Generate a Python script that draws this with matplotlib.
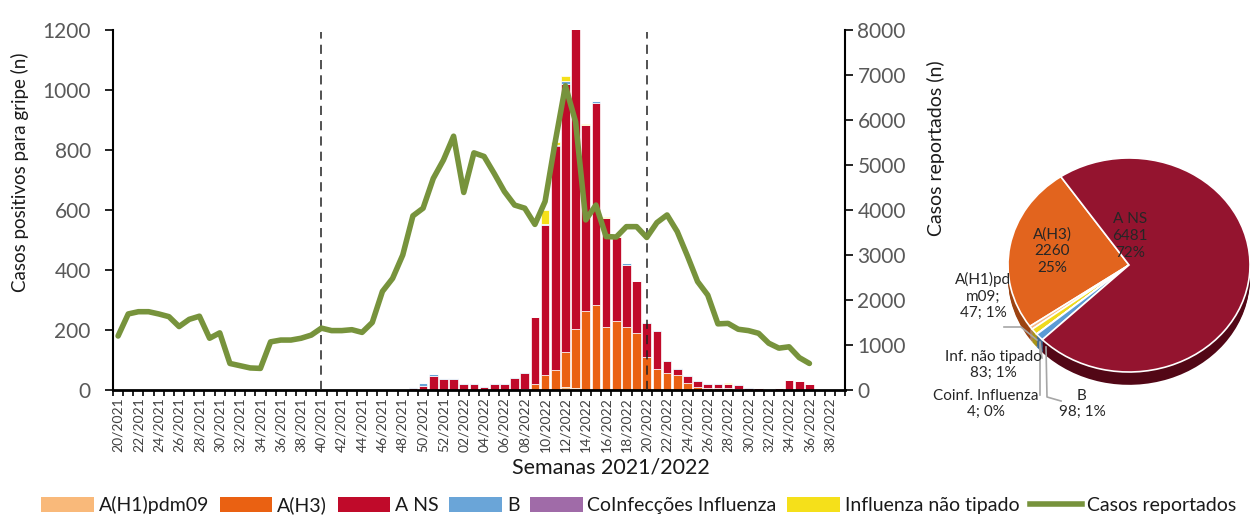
import numpy as np
import matplotlib
matplotlib.use("Agg")
import matplotlib.pyplot as plt
from matplotlib.patches import Patch
from matplotlib.lines import Line2D

plt.rcParams['font.family'] = ['Lato', 'DejaVu Sans']

# ---------------- data ----------------
weeks = ([f"{w:02d}/2021" for w in range(20, 53)] +
         [f"{w:02d}/2022" for w in range(1, 40)])

# rows of 10 weeks: 20-29/21 | 30-39/21 | 40-49/21 | 50/21-07/22 | 08-17/22 | 18-27/22 | 28-37/22 | 38-39/22
h1pdm09 = [0, 0, 0, 0, 0, 0, 0, 0, 0, 0,
           0, 0, 0, 0, 0, 0, 0, 0, 0, 0,
           0, 0, 0, 0, 0, 0, 0, 0, 0, 0,
           0, 0, 0, 0, 0, 0, 0, 0, 0, 0,
           0, 0, 0, 0, 10, 8, 0, 0, 0, 0,
           0, 0, 0, 0, 0, 0, 0, 0, 0, 0,
           0, 0, 0, 0, 0, 0, 0, 0, 0, 0,
           0, 0]
h3 = [0, 0, 0, 0, 0, 0, 0, 0, 0, 0,
      0, 0, 0, 0, 0, 0, 0, 0, 0, 0,
      0, 0, 0, 0, 0, 0, 0, 0, 0, 0,
      0, 0, 0, 0, 0, 0, 0, 0, 0, 0,
      3, 20, 50, 67, 118, 195, 263, 283, 211, 230,
      211, 191, 110, 70, 58, 50, 24, 11, 8, 8,
      7, 3, 0, 0, 0, 0, 0, 0, 0, 0,
      0, 0]
a_ns = [0, 0, 0, 0, 0, 0, 0, 0, 0, 0,
        0, 0, 0, 0, 0, 0, 0, 0, 0, 0,
        0, 0, 0, 0, 0, 0, 0, 0, 0, 8,
        15, 48, 37, 37, 19, 19, 11, 19, 19, 40,
        54, 222, 500, 748, 891, 1007, 620, 675, 363, 281,
        206, 174, 115, 128, 38, 21, 23, 18, 13, 13,
        13, 14, 8, 7, 0, 6, 33, 29, 20, 0,
        0, 0]
b = [0, 0, 0, 0, 0, 0, 0, 0, 0, 0,
     0, 0, 0, 0, 0, 0, 0, 0, 0, 0,
     0, 0, 0, 0, 0, 0, 0, 0, 0, 3,
     8, 4, 4, 4, 3, 3, 4, 3, 3, 4,
     4, 2, 5, 3, 10, 0, 0, 5, 0, 0,
     5, 0, 1, 1, 4, 3, 3, 3, 3, 3,
     0, 2, 2, 0, 0, 0, 0, 0, 0, 0,
     0, 0]
coinf = [0, 0, 0, 0, 0, 0, 0, 0, 0, 0,
         0, 0, 0, 0, 0, 0, 0, 0, 0, 0,
         0, 0, 0, 0, 0, 0, 0, 0, 0, 0,
         0, 0, 0, 0, 0, 0, 0, 0, 0, 0,
         0, 0, 0, 0, 2, 0, 0, 0, 0, 0,
         0, 0, 0, 0, 0, 0, 0, 0, 0, 0,
         0, 0, 0, 0, 0, 0, 0, 0, 0, 0,
         0, 0]
nao_tip = [0, 0, 0, 0, 0, 0, 0, 0, 0, 0,
           0, 0, 0, 0, 0, 0, 0, 0, 0, 0,
           0, 0, 0, 0, 0, 0, 0, 0, 0, 0,
           0, 0, 0, 0, 0, 0, 0, 0, 0, 0,
           0, 0, 45, 10, 17, 0, 5, 0, 4, 4,
           0, 0, 0, 0, 0, 0, 0, 0, 0, 0,
           3, 0, 0, 0, 0, 0, 0, 0, 0, 0,
           0, 0]

nan = np.nan
casos_reportados = [1200, 1690, 1740, 1740, 1690, 1630, 1410, 1570, 1640, 1150,
                    1270, 590, 540, 490, 480, 1070, 1110, 1110, 1150, 1220,
                    1375, 1320, 1320, 1340, 1280, 1500, 2190, 2480, 3000, 3870,
                    4040, 4700, 5110, 5640, 4390, 5270, 5190, 4810, 4410, 4110,
                    4040, 3680, 4190, 5520, 6760, 5960, 3780, 4110, 3410, 3400,
                    3630, 3630, 3390, 3720, 3890, 3520, 2980, 2410, 2110, 1470,
                    1480, 1350, 1320, 1260, 1040, 930, 960, 720, 590, nan,
                    nan, nan]

series_names = ["A(H1)pdm09", "A(H3)", "A NS", "B", "CoInfecções Influenza",
                "Influenza não tipado"]
series_vals = [h1pdm09, h3, a_ns, b, coinf, nao_tip]
series_colors = ["#F9B97A", "#EA6112", "#C00A2A", "#6AA5D8", "#A06BA8", "#F5E01A"]
line_color = "#77933C"

dashed_weeks = ["40/2021", "20/2022"]

pie_names = ["A(H3)", "A(H1)pdm09", "Inf. não tipado", "Coinf. Influenza", "B", "A NS"]
pie_vals = [2260, 47, 83, 4, 98, 6481]
pie_colors = ["#E2641E", "#F6B988", "#F0DA1E", "#9E6DAC", "#5B9BD5", "#94142F"]
pie_side = ["#9C4312", "#B0805A", "#A89516", "#6C4A76", "#3E6C95", "#520716"]

# ---------------- figure ----------------
W, H = 1250, 516
fig = plt.figure(figsize=(W / 100, H / 100), dpi=100)

ax = fig.add_axes([113 / W, 1 - 390 / H, (845 - 113) / W, 360 / H])
x = np.arange(len(weeks))
bottom = np.zeros(len(weeks))
for vals, col in zip(series_vals, series_colors):
    v = np.array(vals, dtype=float)
    ax.bar(x, v, width=0.86, bottom=bottom, color=col, edgecolor="white",
           linewidth=0.5, zorder=1)
    bottom += v

ax.set_xlim(-0.5, len(weeks) - 0.5)
ax.set_ylim(0, 1200)
ax.set_yticks(np.arange(0, 1201, 200))
ax.tick_params(axis="y", labelsize=15, labelcolor="#595959", length=6,
               width=1.2, direction="out", pad=10)
ax.set_xticks(np.arange(-0.5, len(weeks), 1))
ax.set_xticklabels([])
ax.set_xticks(x[::2], minor=True)
ax.set_xticklabels(weeks[::2], minor=True, rotation=90)
ax.tick_params(axis="x", which="major", length=4, width=1.2, direction="out")
ax.tick_params(axis="x", which="minor", length=0, labelsize=10,
               labelcolor="#404040", pad=5)
for s in ["top", "right"]:
    ax.spines[s].set_visible(False)
ax.spines["left"].set_linewidth(1.5)
ax.spines["bottom"].set_linewidth(2)

ax2 = ax.twinx()
ax2.set_ylim(0, 8000)
ax2.set_yticks(np.arange(0, 8001, 1000))
ax2.tick_params(axis="y", labelsize=15, labelcolor="#595959", length=6,
                width=1.2, direction="out", pad=3)
for s in ["top", "left", "bottom"]:
    ax2.spines[s].set_visible(False)
ax2.spines["right"].set_linewidth(1.5)

for wk in dashed_weeks:
    ax2.axvline(weeks.index(wk), color="#222222", lw=1.1, ls=(0, (6, 4)),
                ymax=0.995, zorder=2)
ax2.plot(x, casos_reportados, color=line_color, lw=4, zorder=3,
         solid_joinstyle="round", solid_capstyle="round")

fig.text(20 / W, 1 - 172 / H, "Casos positivos para gripe (n)", rotation=90,
         ha="center", va="center", fontsize=13.5, color="#1a1a1a")
fig.text(936 / W, 1 - 148 / H, "Casos reportados (n)", rotation=90,
         ha="center", va="center", fontsize=14, color="#1a1a1a")
fig.text(611 / W, 1 - 467 / H, "Semanas 2021/2022", ha="center", va="center",
         fontsize=15.5, color="#1a1a1a")

handles = [Patch(facecolor=c, edgecolor="none") for c in series_colors]
handles.append(Line2D([0], [0], color=line_color, lw=4))
labels = series_names + ["Casos reportados"]
fig.legend(handles, labels, loc="center", bbox_to_anchor=(639 / W, 1 - 505 / H),
           ncol=7, frameon=False, fontsize=14, handlelength=2.7,
           handleheight=0.8, handletextpad=0.25, columnspacing=0.55,
           labelcolor="#1a1a1a", borderpad=0, borderaxespad=0)

# ---------------- pie ----------------
rx, ry = 121.0, 107.0
cx, cy = 1129.0, 265.0
depth = 0.12
pax = fig.add_axes([(cx - rx) / W, 1 - (cy + ry + depth * ry) / H,
                    2 * rx / W, (2 + depth) * ry / H])
start = 124.3
for k in np.linspace(depth, 0.01, 10):
    wedges, _ = pax.pie(pie_vals, colors=pie_side, startangle=start,
                        counterclock=True, center=(0, -k), radius=1,
                        wedgeprops=dict(linewidth=0))
    for w in wedges:
        w.set_clip_on(False)
wedges, _ = pax.pie(pie_vals, colors=pie_colors, startangle=start,
                    counterclock=True, radius=1,
                    wedgeprops=dict(edgecolor="white", linewidth=1.2))
for w in wedges:
    w.set_clip_on(False)
pax.set_aspect("auto")
pax.set_xlim(-1, 1)
pax.set_ylim(-1 - depth, 1)
pax.axis("off")

total = sum(pie_vals)
pct = {n: int(round(v / total * 100)) for n, v in zip(pie_names, pie_vals)}
val = dict(zip(pie_names, pie_vals))


def P(px, py):
    return ((px - cx) / rx, (cy - py) / ry)


lab_kw = dict(ha="center", va="center", fontsize=11, color="#262626",
              linespacing=1.25, clip_on=False)
pax.text(*P(1130, 236), f"A NS\n{val['A NS']}\n{pct['A NS']}%", **lab_kw)
pax.text(*P(1052, 251), f"A(H3)\n{val['A(H3)']}\n{pct['A(H3)']}%", **lab_kw)
pax.text(*P(983, 296), f"A(H1)pd\nm09;\n{val['A(H1)pdm09']}; {pct['A(H1)pdm09']}%", **lab_kw)
pax.text(*P(993, 365), f"Inf. não tipado\n{val['Inf. não tipado']}; {pct['Inf. não tipado']}%", **lab_kw)
pax.text(*P(986, 404), f"Coinf. Influenza\n{val['Coinf. Influenza']}; {pct['Coinf. Influenza']}%", **lab_kw)
pax.text(*P(1082, 404), f"B\n{val['B']}; {pct['B']}%", **lab_kw)

lead_kw = dict(color="#A6A6A6", lw=1.2, clip_on=False)
for pts in [[(1004, 327), (1021, 327), (1037, 340)],
            [(1040, 342), (1042, 358)],
            [(1040, 343), (1040, 395)],
            [(1046, 347), (1047, 397), (1061, 401)]]:
    xs, ys = zip(*[P(*p) for p in pts])
    pax.plot(xs, ys, **lead_kw)

fig.savefig("out.png", dpi=100)
